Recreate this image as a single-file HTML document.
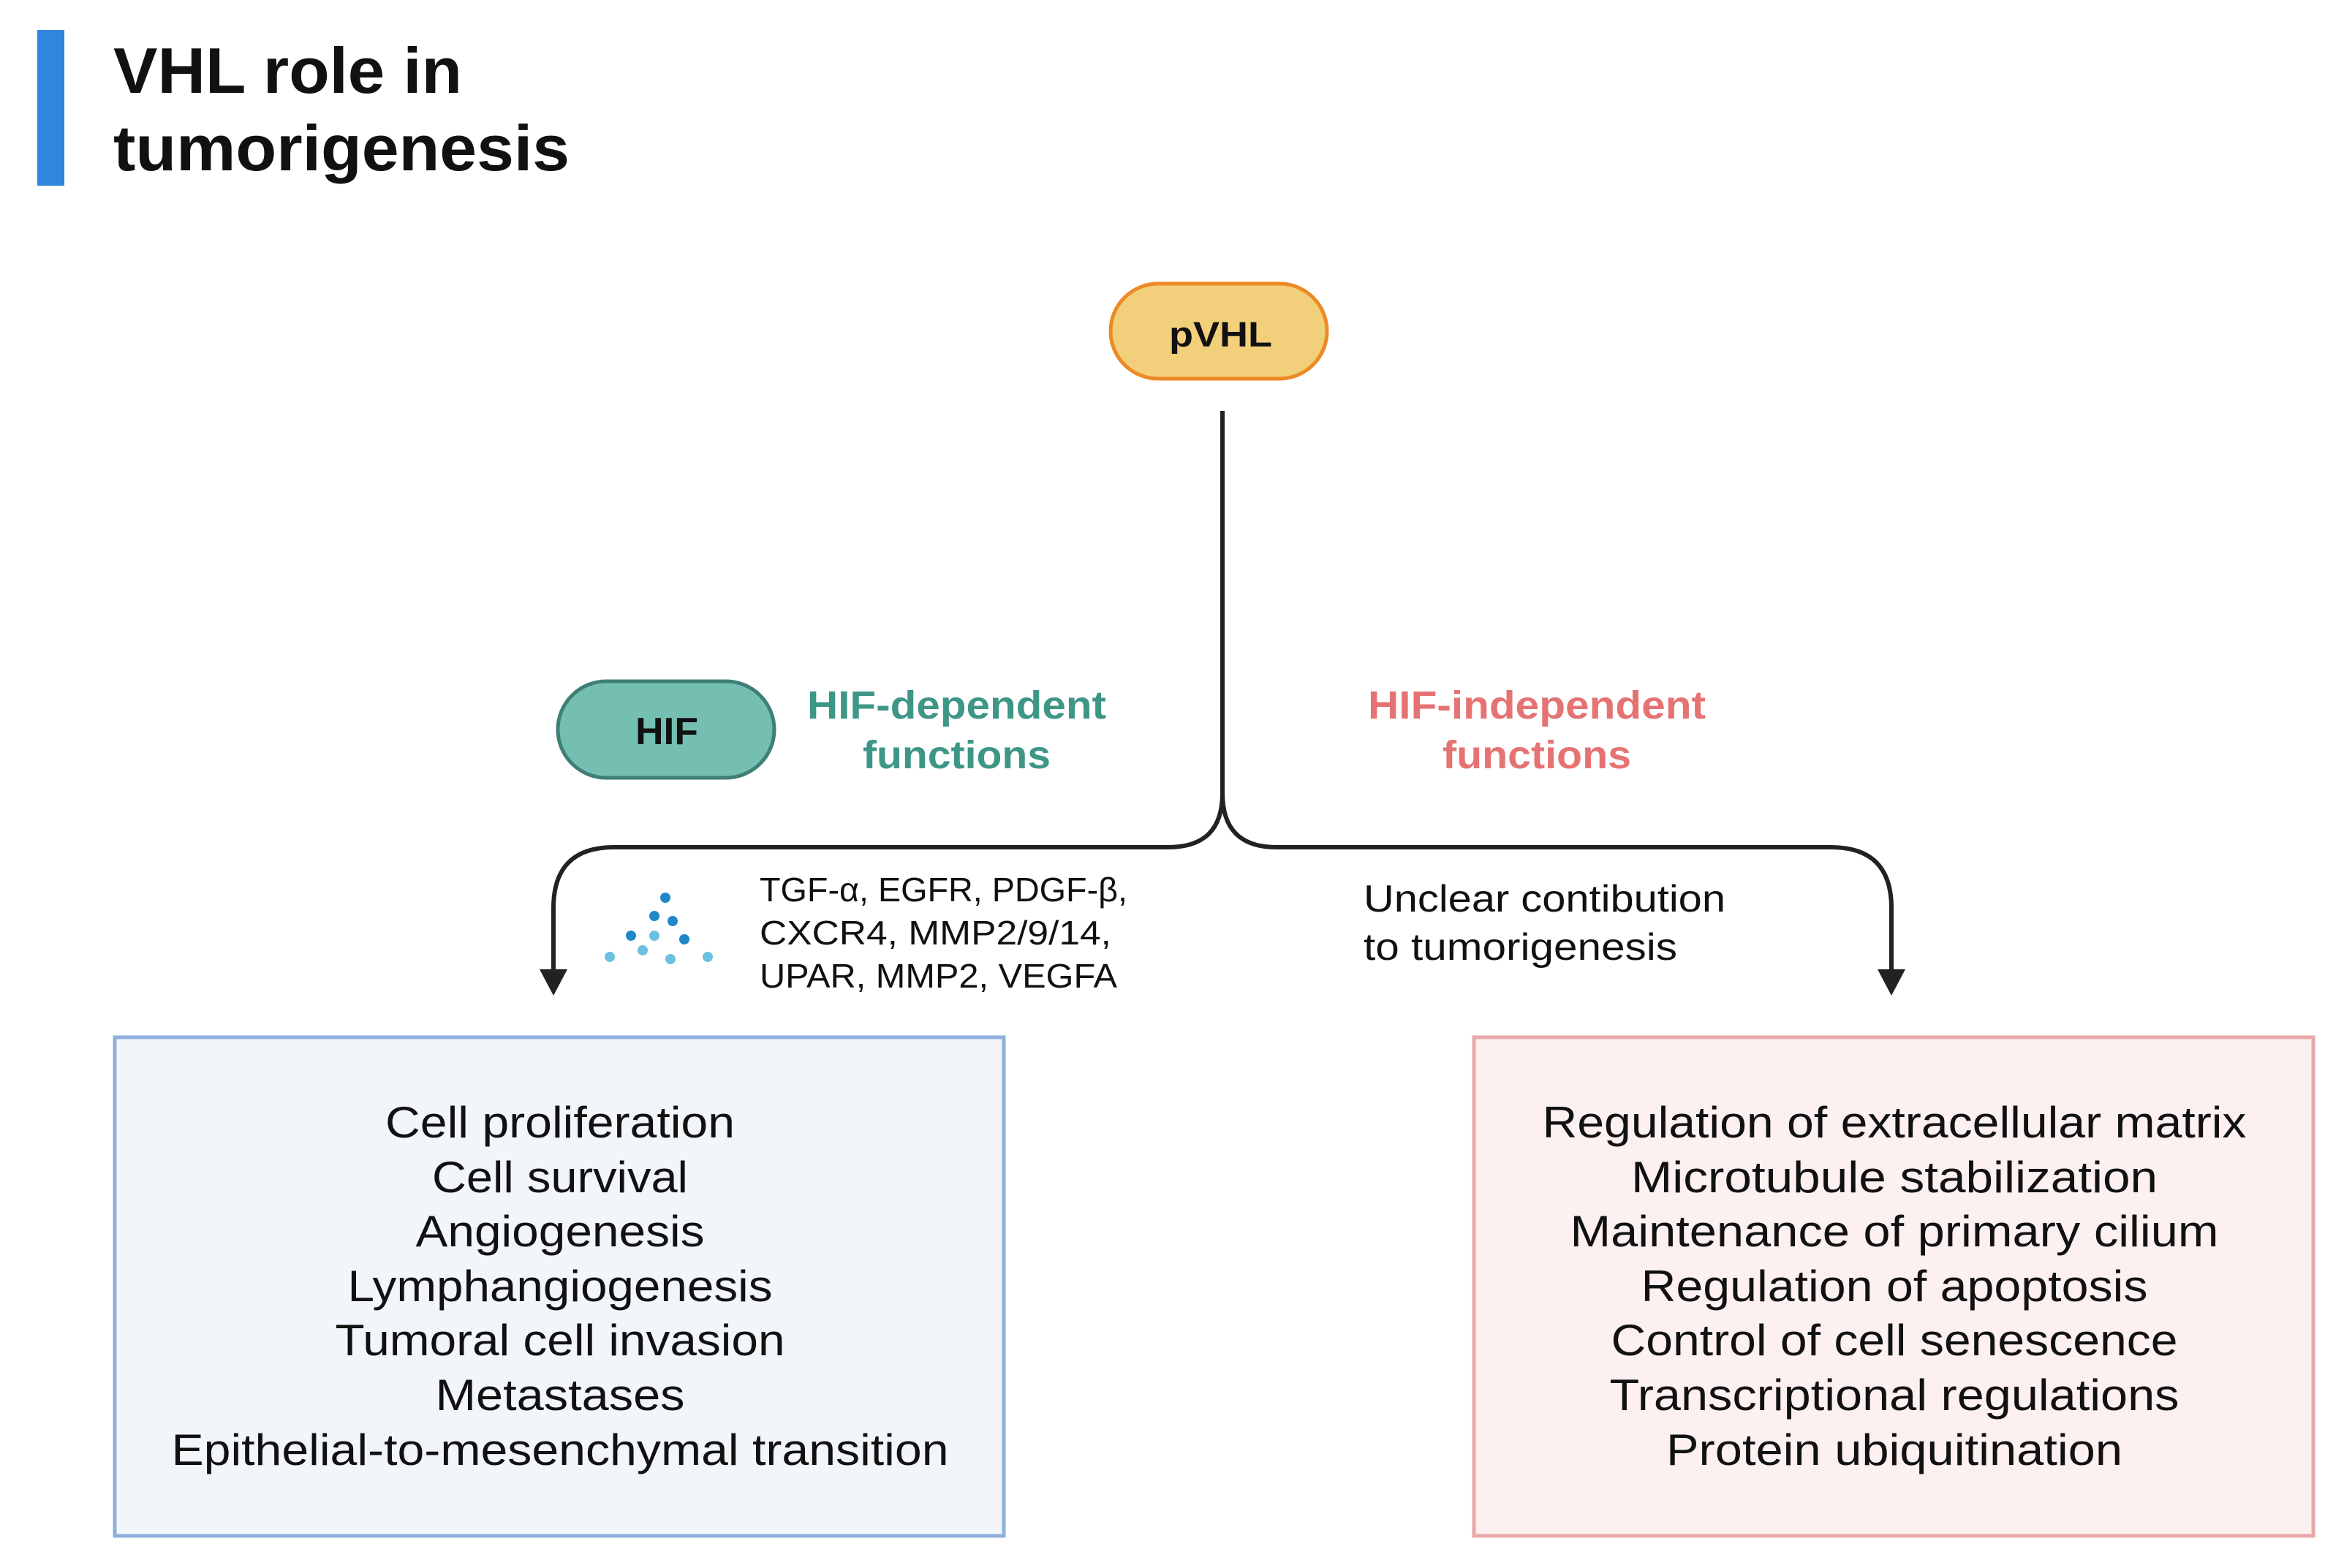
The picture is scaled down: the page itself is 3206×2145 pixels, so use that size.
<!DOCTYPE html>
<html><head><meta charset="utf-8"><style>
html,body{margin:0;padding:0;background:#fff}
svg{display:block}
text{font-family:"Liberation Sans",sans-serif}
</style></head><body>
<svg width="3206" height="2145" viewBox="0 0 3206 2145" xmlns="http://www.w3.org/2000/svg">
<rect x="0" y="0" width="3206" height="2145" fill="#fff"/>
<rect x="51" y="41" width="37" height="213" fill="#2f86dc"/>
<text x="155" y="127" font-size="88" font-weight="bold" fill="#111" textLength="477" lengthAdjust="spacingAndGlyphs">VHL role in</text>
<text x="155" y="233" font-size="88" font-weight="bold" fill="#111" textLength="624" lengthAdjust="spacingAndGlyphs">tumorigenesis</text>

<rect x="1519" y="388" width="296" height="130" rx="65" fill="#f2cf7a" stroke="#ec8a25" stroke-width="5"/>
<text x="1599" y="474" font-size="48" font-weight="bold" fill="#111" textLength="141" lengthAdjust="spacingAndGlyphs">pVHL</text>

<rect x="763" y="932" width="296" height="132" rx="66" fill="#74bfb2" stroke="#3f7f75" stroke-width="5"/>
<text x="869" y="1018" font-size="52" font-weight="bold" fill="#111" textLength="86" lengthAdjust="spacingAndGlyphs">HIF</text>

<text x="1104" y="983" font-size="54" font-weight="bold" fill="#3e9686" textLength="409" lengthAdjust="spacingAndGlyphs">HIF-dependent</text>
<text x="1180" y="1051" font-size="54" font-weight="bold" fill="#3e9686" textLength="257" lengthAdjust="spacingAndGlyphs">functions</text>
<text x="1871" y="983" font-size="54" font-weight="bold" fill="#e57373" textLength="462" lengthAdjust="spacingAndGlyphs">HIF-independent</text>
<text x="1973" y="1051" font-size="54" font-weight="bold" fill="#e57373" textLength="258" lengthAdjust="spacingAndGlyphs">functions</text>

<g fill="none" stroke="#222" stroke-width="6">
<path d="M1672 562 V1085 Q1672 1159 1598 1159 H840 Q757 1159 757 1242 V1332"/>
<path d="M1672 1085 Q1672 1159 1746 1159 H2504 Q2587 1159 2587 1242 V1332"/>
</g>
<polygon points="738,1326 776,1326 757,1362" fill="#222"/>
<polygon points="2568,1326 2606,1326 2587,1362" fill="#222"/>

<g fill="#1e88c8">
<circle cx="910" cy="1228" r="7"/><circle cx="895" cy="1253" r="7"/><circle cx="920" cy="1260" r="7"/>
<circle cx="863" cy="1280" r="7"/><circle cx="936" cy="1285" r="7"/>
</g>
<g fill="#6cc0e0">
<circle cx="895" cy="1280" r="7"/><circle cx="834" cy="1309" r="7"/><circle cx="879" cy="1300" r="7"/><circle cx="917" cy="1312" r="7"/><circle cx="968" cy="1309" r="7"/>
</g>

<g font-size="46" fill="#111">
<text x="1039" y="1233" textLength="503" lengthAdjust="spacingAndGlyphs">TGF-α, EGFR, PDGF-β,</text>
<text x="1039" y="1292" textLength="481" lengthAdjust="spacingAndGlyphs">CXCR4, MMP2/9/14,</text>
<text x="1039" y="1351" textLength="489" lengthAdjust="spacingAndGlyphs">UPAR, MMP2, VEGFA</text>
</g>
<g font-size="52" fill="#111">
<text x="1865" y="1247" textLength="495" lengthAdjust="spacingAndGlyphs">Unclear contibution</text>
<text x="1865" y="1313" textLength="429" lengthAdjust="spacingAndGlyphs">to tumorigenesis</text>
</g>

<rect x="157" y="1419" width="1216" height="682" fill="#f2f6fb" stroke="#8fb0de" stroke-width="5"/>
<rect x="2016" y="1419" width="1148" height="682" fill="#fdf0f0" stroke="#e8a8aa" stroke-width="5"/>

<g font-size="60" fill="#111" text-anchor="middle">
<text x="766" y="1556" textLength="478" lengthAdjust="spacingAndGlyphs">Cell proliferation</text>
<text x="766" y="1631" textLength="350" lengthAdjust="spacingAndGlyphs">Cell survival</text>
<text x="766" y="1705" textLength="395" lengthAdjust="spacingAndGlyphs">Angiogenesis</text>
<text x="766" y="1780" textLength="581" lengthAdjust="spacingAndGlyphs">Lymphangiogenesis</text>
<text x="766" y="1854" textLength="615" lengthAdjust="spacingAndGlyphs">Tumoral cell invasion</text>
<text x="766" y="1929" textLength="341" lengthAdjust="spacingAndGlyphs">Metastases</text>
<text x="766" y="2004" textLength="1063" lengthAdjust="spacingAndGlyphs">Epithelial-to-mesenchymal transition</text>

<text x="2591" y="1556" textLength="963" lengthAdjust="spacingAndGlyphs">Regulation of extracellular matrix</text>
<text x="2591" y="1631" textLength="720" lengthAdjust="spacingAndGlyphs">Microtubule stabilization</text>
<text x="2591" y="1705" textLength="887" lengthAdjust="spacingAndGlyphs">Maintenance of primary cilium</text>
<text x="2591" y="1780" textLength="693" lengthAdjust="spacingAndGlyphs">Regulation of apoptosis</text>
<text x="2591" y="1854" textLength="775" lengthAdjust="spacingAndGlyphs">Control of cell senescence</text>
<text x="2591" y="1929" textLength="779" lengthAdjust="spacingAndGlyphs">Transcriptional regulations</text>
<text x="2591" y="2004" textLength="624" lengthAdjust="spacingAndGlyphs">Protein ubiquitination</text>
</g>
</svg>
</body></html>
